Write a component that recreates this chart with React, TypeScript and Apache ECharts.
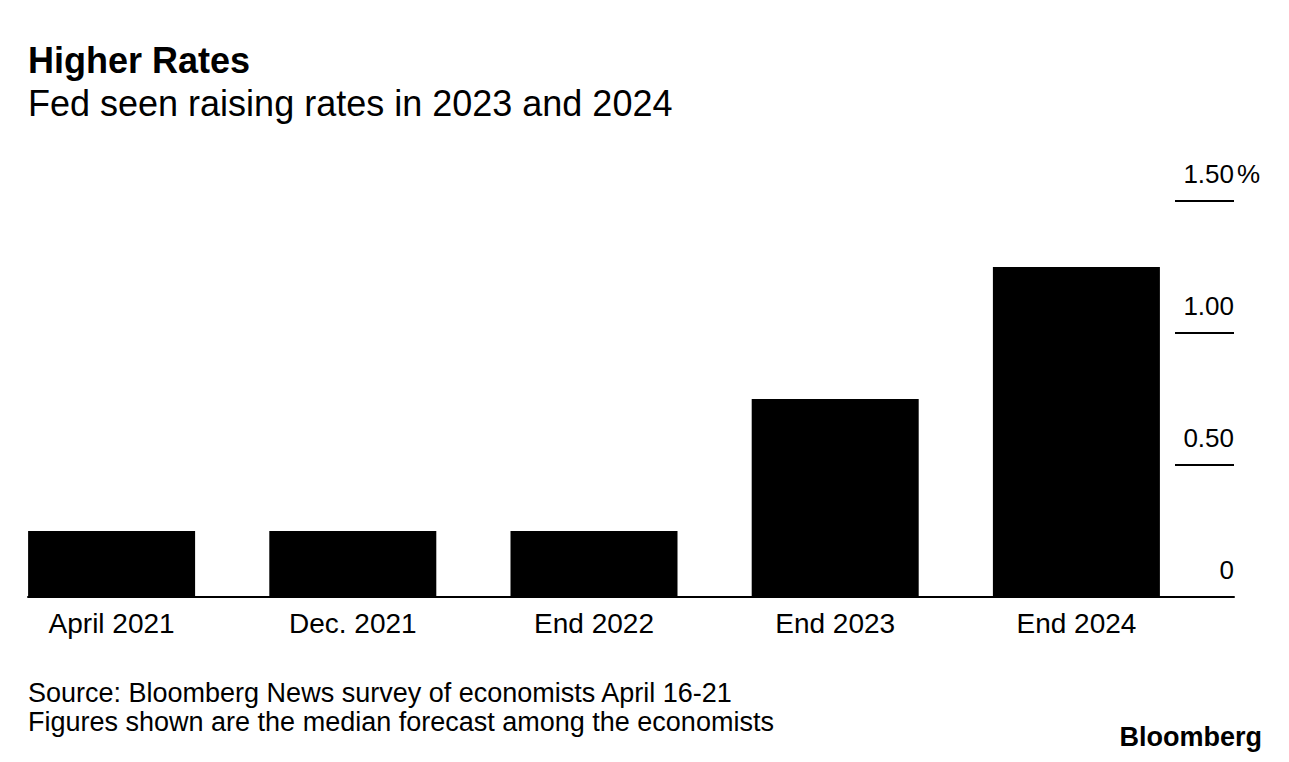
import React, { useEffect, useRef } from "react";
import * as echarts from "echarts";

const categories = ["April 2021", "Dec. 2021", "End 2022", "End 2023", "End 2024"];
const rates = [0.25, 0.25, 0.25, 0.75, 1.25];
const spacer = [0, 0, 0, 0, 0];
const yTickLabels: Record<string, string> = { "0": "0", "0.5": "0.50", "1": "1.00", "1.5": "1.50" };

const FONT = "'Liberation Sans', Arial, Helvetica, sans-serif";

export default function App() {
  const ref = useRef<HTMLDivElement>(null);
  useEffect(() => {
    document.body.style.margin = "0";
    const chart = echarts.init(ref.current!, null, { renderer: "svg" });
    chart.setOption({
      animation: false,
      backgroundColor: "#ffffff",
      textStyle: { fontFamily: FONT, color: "#000" },
      title: [
        {
          text: "Higher Rates",
          left: 28,
          top: 42,
          padding: 0,
          textStyle: { fontFamily: FONT, fontSize: 36, fontWeight: "bold", color: "#000" },
        },
        {
          text: "Fed seen raising rates in 2023 and 2024",
          left: 28,
          top: 85,
          padding: 0,
          textStyle: { fontFamily: FONT, fontSize: 36, fontWeight: "normal", color: "#000" },
        },
        {
          text: "Source: Bloomberg News survey of economists April 16-21\nFigures shown are the median forecast among the economists",
          left: 28,
          top: 678,
          padding: 0,
          textStyle: { fontFamily: FONT, fontSize: 27, fontWeight: "normal", color: "#000", lineHeight: 29 },
        },
        {
          text: "Bloomberg",
          right: 27,
          top: 723,
          padding: 0,
          textStyle: { fontFamily: FONT, fontSize: 27, fontWeight: "bold", color: "#000" },
        },
      ],
      grid: { left: 28, right: 55, top: 201, bottom: 165, containLabel: false },
      xAxis: {
        type: "category",
        data: categories,
        axisLine: { show: true, lineStyle: { color: "#000", width: 2 } },
        axisTick: { show: false },
        axisLabel: {
          fontFamily: FONT,
          fontSize: 28,
          color: "#000",
          margin: 12,
          padding: [0, 74, 0, 0],
        },
      },
      yAxis: {
        type: "value",
        position: "right",
        min: 0,
        max: 1.5,
        interval: 0.5,
        splitLine: { show: false },
        axisLine: { show: false },
        axisTick: { show: true, inside: true, length: 59, lineStyle: { color: "#000", width: 2 } },
        axisLabel: {
          inside: true,
          margin: -26,
          fontFamily: FONT,
          fontSize: 26,
          color: "#000",
          align: "right",
          verticalAlign: "bottom",
          padding: [0, 0, 14, 0],
          formatter: (v: number) => {
            const s = yTickLabels[String(v)] ?? String(v);
            return v === 1.5 ? `{n|${s}}{p|%}` : `{n|${s}}{s|}`;
          },
          rich: {
            n: { fontFamily: FONT, fontSize: 26, color: "#000" },
            p: { fontFamily: FONT, fontSize: 26, color: "#000", width: 26, align: "right" },
            s: { fontFamily: FONT, fontSize: 26, color: "#000", width: 26 },
          },
        },
      },
      series: [
        {
          type: "bar",
          data: rates,
          barWidth: 167,
          barGap: "0%",
          itemStyle: { color: "#000" },
          silent: true,
        },
        {
          type: "bar",
          data: spacer,
          barWidth: 74,
          barGap: "0%",
          itemStyle: { color: "rgba(0,0,0,0)" },
          silent: true,
        },
      ],
    });
    return () => chart.dispose();
  }, []);
  return <div ref={ref} style={{ position: "absolute", left: 0, top: 0, width: 1289, height: 762 }} />;
}
